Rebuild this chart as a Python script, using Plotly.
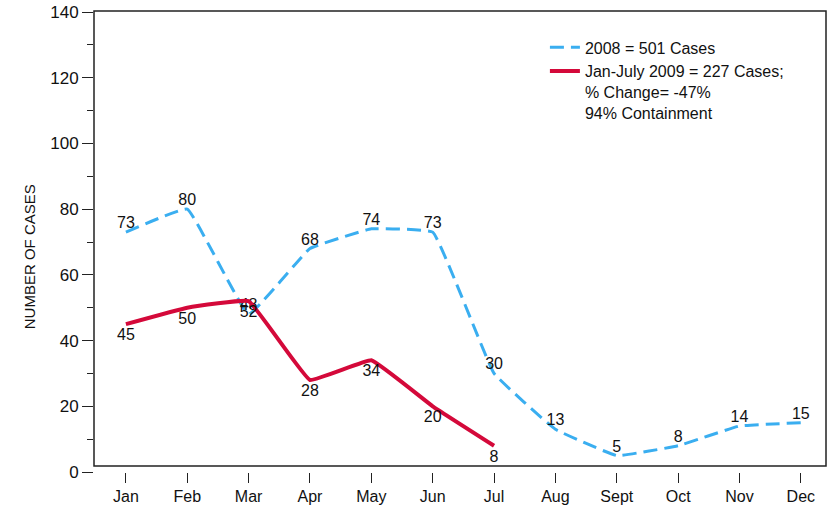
import plotly.graph_objects as go

months = ["Jan", "Feb", "Mar", "Apr", "May", "Jun", "Jul", "Aug", "Sept", "Oct", "Nov", "Dec"]
cases_2008 = [73, 80, 48, 68, 74, 73, 30, 13, 5, 8, 14, 15]
months_2009 = ["Jan", "Feb", "Mar", "Apr", "May", "Jun", "Jul"]
cases_2009 = [45, 50, 52, 28, 34, 20, 8]
name_2008 = "2008 = 501 Cases"
name_2009 = "Jan-July 2009 = 227 Cases;<br>% Change= -47%<br>94% Containment"
y_ticks = [0, 20, 40, 60, 80, 100, 120, 140]

FONT = "Liberation Sans, Arial, sans-serif"
BLUE = "#3aaef0"
RED = "#d4093a"

idx = {m: i for i, m in enumerate(months)}

fig = go.Figure()
fig.add_trace(go.Scatter(
    x=[idx[m] for m in months], y=cases_2008, name=name_2008,
    mode="lines+text", text=[str(v) for v in cases_2008],
    textposition="top center",
    textfont=dict(family=FONT, size=16, color="#111"),
    line=dict(color=BLUE, width=3, dash="14px,7px", shape="spline", smoothing=0.25),
    cliponaxis=False,
))
fig.add_trace(go.Scatter(
    x=[idx[m] for m in months_2009], y=cases_2009, name=name_2009,
    mode="lines+markers+text", text=[str(v) for v in cases_2009],
    textposition="bottom center",
    textfont=dict(family=FONT, size=16, color="#111"),
    marker=dict(size=5, color="rgba(0,0,0,0)"),
    line=dict(color=RED, width=4, shape="spline", smoothing=0.25),
    cliponaxis=False,
))

fig.update_layout(
    width=830, height=511,
    margin=dict(l=94, r=4, t=12, b=39, autoexpand=False),
    plot_bgcolor="white", paper_bgcolor="white",
    font=dict(family=FONT, size=16, color="#111"),
    showlegend=True,
    legend=dict(x=0.616, y=0.96, xanchor="left", yanchor="top",
                bgcolor="rgba(0,0,0,0)", valign="top",
                font=dict(family=FONT, size=16, color="#111"),
                tracegroupgap=2),
    xaxis=dict(
        range=[-0.52, 11.41], tickmode="array",
        tickvals=list(range(len(months))), ticktext=months,
        showgrid=False, zeroline=False, showline=False,
        ticks="outside", ticklen=10, tickwidth=1.2, tickcolor="#222",
        tickfont=dict(family=FONT, size=16, color="#111"),
        ticklabeloverflow="allow", automargin=False,
    ),
    yaxis=dict(
        range=[0, 140], tickvals=y_ticks,
        showgrid=False, zeroline=False, showline=False,
        ticks="outside", ticklen=11, tickwidth=1.2, tickcolor="#222",
        tickfont=dict(family=FONT, size=17, color="#111"),
        ticklabeloverflow="allow", automargin=False,
        minor=dict(dtick=10, ticks="outside", ticklen=6, tickwidth=1.2, tickcolor="#222"),
    ),
    shapes=[dict(type="rect", xref="paper", yref="paper",
                 x0=0, x1=1, y0=0.013, y1=1.002,
                 line=dict(color="#222", width=1.5), fillcolor="rgba(0,0,0,0)",
                 layer="below")],
    annotations=[dict(text="NUMBER OF CASES", xref="paper", yref="paper",
                      x=-0.103, y=0.467, textangle=-90, showarrow=False,
                      font=dict(family=FONT, size=15, color="#111"))],
)

fig.write_html("out.html", config={"displayModeBar": False},
               post_script="document.body.style.margin='0';")
